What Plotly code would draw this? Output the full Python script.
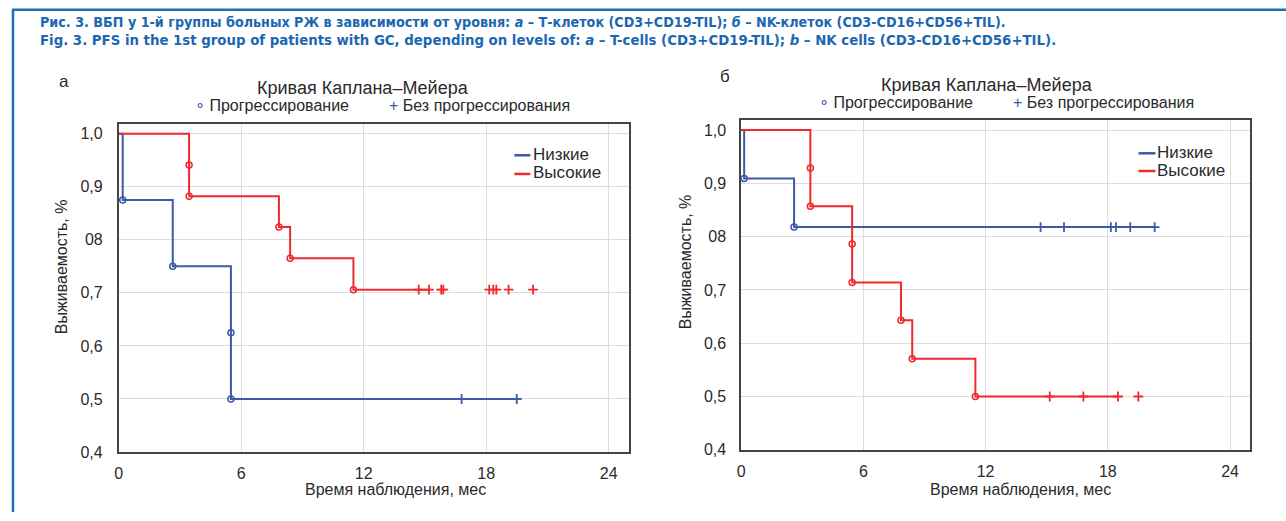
import plotly.graph_objects as go

# ---------------- data ----------------
# Panel a: T-cells
a_low_event_t = [0.2, 2.65, 5.5, 5.5]
a_low_event_s = [0.875, 0.75, 0.625, 0.5]
a_low_cens_t = [16.8, 19.5]
a_low_line_end = 19.5

a_high_event_t = [3.45, 3.45, 7.85, 8.4, 11.5]
a_high_event_s = [0.941, 0.882, 0.824, 0.765, 0.706]
a_high_cens_t = [14.7, 15.2, 15.8, 15.9, 18.15, 18.35, 18.5, 19.1, 20.3]
a_high_line_end = 15.2

# Panel б: NK cells
b_low_event_t = [0.15, 2.6]
b_low_event_s = [0.909, 0.818]
b_low_cens_t = [14.7, 15.85, 18.15, 18.4, 19.1, 20.3]
b_low_line_end = 20.3

b_high_event_t = [3.4, 3.4, 5.45, 5.45, 7.85, 8.4, 11.5]
b_high_event_s = [0.929, 0.857, 0.786, 0.714, 0.643, 0.571, 0.5]
b_high_cens_t = [15.15, 16.8, 18.5, 19.5]
b_high_line_end = 18.5

x_tick_vals = [0, 6, 12, 18, 24]
x_tick_text = ["0", "6", "12", "18", "24"]
y_tick_vals = [0.4, 0.5, 0.6, 0.7, 0.8, 0.9, 1.0]
y_tick_text = ["0,4", "0,5", "0,6", "0,7", "08", "0,9", "1,0"]

group_names = ["Низкие", "Высокие"]

# ---------------- styles ----------------
BLUE = "#3c5aa8"
RED = "#ee2a2e"
TXT = "#2a2a2a"
FRAME = "#1f6db6"
FONT = "Liberation Sans, Arial, sans-serif"
W, H = 1286, 521


def px_x(p):
    return p / W


def px_y(p):
    return (H - p) / H


fig = go.Figure()


def add_curve(ev_t, ev_s, cens_t, line_end, color, name, xa, ya):
    xs = [0.0]
    ys = [1.0]
    for t, s in zip(ev_t, ev_s):
        xs.append(t)
        ys.append(s)
    last = ev_s[-1]
    xs.append(line_end)
    ys.append(last)
    fig.add_trace(go.Scatter(
        x=xs, y=ys, mode="lines", line=dict(color=color, width=2, shape="hv"),
        name=name, xaxis=xa, yaxis=ya, showlegend=False, hoverinfo="skip"))
    fig.add_trace(go.Scatter(
        x=ev_t, y=ev_s, mode="markers",
        marker=dict(symbol="circle-open", size=6, color=color, line=dict(width=1.5, color=color)),
        xaxis=xa, yaxis=ya, showlegend=False, hoverinfo="skip"))
    fig.add_trace(go.Scatter(
        x=cens_t, y=[last] * len(cens_t), mode="markers",
        marker=dict(symbol="cross-thin", size=7, color=color, line=dict(width=1.8, color=color)),
        xaxis=xa, yaxis=ya, showlegend=False, hoverinfo="skip"))


add_curve(a_low_event_t, a_low_event_s, a_low_cens_t, a_low_line_end, BLUE, group_names[0], "x", "y")
add_curve(a_high_event_t, a_high_event_s, a_high_cens_t, a_high_line_end, RED, group_names[1], "x", "y")
add_curve(b_low_event_t, b_low_event_s, b_low_cens_t, b_low_line_end, BLUE, group_names[0], "x2", "y2")
add_curve(b_high_event_t, b_high_event_s, b_high_cens_t, b_high_line_end, RED, group_names[1], "x2", "y2")

axis_common = dict(
    showline=True, mirror=True, linecolor="#444", linewidth=1.5,
    showgrid=True, gridcolor="#dcdcdc", gridwidth=1,
    zeroline=False, ticks="", tickfont=dict(family=FONT, size=16, color=TXT),
)

fig.update_layout(
    width=W, height=H,
    margin=dict(l=0, r=0, t=0, b=0),
    paper_bgcolor="white", plot_bgcolor="white",
    font=dict(family=FONT, size=16, color=TXT),
    showlegend=False,
    xaxis=dict(domain=[px_x(115), px_x(627)], range=[0, 25], anchor="y",
               tickvals=x_tick_vals, ticktext=x_tick_text, ticklabelstandoff=6, **axis_common),
    yaxis=dict(domain=[px_y(460), px_y(126)], range=[0.4, 1.0185], anchor="x",
               tickvals=y_tick_vals, ticktext=y_tick_text, ticklabelstandoff=11, **axis_common),
    xaxis2=dict(domain=[px_x(739.4), px_x(1250.3)], range=[0, 25], anchor="y2",
                tickvals=x_tick_vals, ticktext=x_tick_text, ticklabelstandoff=6, **axis_common),
    yaxis2=dict(domain=[px_y(457.7), px_y(121.7)], range=[0.4, 1.0196], anchor="x2",
                tickvals=y_tick_vals, ticktext=y_tick_text, ticklabelstandoff=10, **axis_common),
)

# frame around the figure (left and top edges visible)
fig.add_shape(type="line", xref="paper", yref="paper", x0=px_x(9), x1=px_x(9), y0=0, y1=px_y(10),
              line=dict(color=FRAME, width=2.5))
fig.add_shape(type="line", xref="paper", yref="paper", x0=px_x(8), x1=1, y0=px_y(10), y1=px_y(10),
              line=dict(color=FRAME, width=2.5))

TITLE_FAMILY = "DejaVu Sans Condensed, Liberation Sans Narrow, Arial Narrow, sans-serif"
fig.add_annotation(xref="paper", yref="paper", x=px_x(34), y=px_y(22), xanchor="left", yanchor="middle",
                   showarrow=False, font=dict(family=TITLE_FAMILY, size=14.2, color="#1b67b2"),
                   text="<b>Рис. 3. ВБП у 1-й группы больных РЖ в зависимости от уровня: <i>а</i> – Т-клеток (CD3+CD19-TIL); <i>б</i> – NK-клеток (CD3-CD16+CD56+TIL).</b>")
fig.add_annotation(xref="paper", yref="paper", x=px_x(34), y=px_y(40), xanchor="left", yanchor="middle",
                   showarrow=False, font=dict(family=TITLE_FAMILY, size=14.8, color="#1b67b2"),
                   text="<b>Fig. 3. PFS in the 1st group of patients with GC, depending on levels of: <i>a</i> – T-cells (CD3+CD19-TIL); <i>b</i> – NK cells (CD3-CD16+CD56+TIL).</b>")

panels = [
    dict(letter="а", lx=60, ly=83, tx=360, ty=90, sx=380, sy=107, xt=393, xty=498, yx=57, yy=271,
         lg_x0=512, lg_x1=528, lg_tx=530, lg_y=[158, 177]),
    dict(letter="б", lx=723, ly=78, tx=986, ty=86, sx=1006, sy=104, xt=1020, xty=498, yx=684, yy=266,
         lg_x0=1138, lg_x1=1155, lg_tx=1156, lg_y=[156, 174]),
]
colors = [BLUE, RED]
for p in panels:
    fig.add_annotation(xref="paper", yref="paper", x=px_x(p["lx"]), y=px_y(p["ly"]),
                       xanchor="center", yanchor="middle", showarrow=False,
                       font=dict(family=FONT, size=17, color=TXT), text=p["letter"])
    fig.add_annotation(xref="paper", yref="paper", x=px_x(p["tx"]), y=px_y(p["ty"]),
                       xanchor="center", yanchor="middle", showarrow=False,
                       font=dict(family=FONT, size=18, color=TXT), text="Кривая Каплана–Мейера")
    fig.add_annotation(xref="paper", yref="paper", x=px_x(p["sx"]), y=px_y(p["sy"]),
                       xanchor="center", yanchor="middle", showarrow=False,
                       font=dict(family=FONT, size=16, color=TXT),
                       text=f"<span style='color:{BLUE}'>∘</span> Прогрессирование"
                            f"         <span style='color:{BLUE}'>+</span> Без прогрессирования")
    fig.add_annotation(xref="paper", yref="paper", x=px_x(p["xt"]), y=px_y(p["xty"]),
                       xanchor="center", yanchor="middle", showarrow=False,
                       font=dict(family=FONT, size=16, color=TXT), text="Время наблюдения, мес")
    fig.add_annotation(xref="paper", yref="paper", x=px_x(p["yx"]), y=px_y(p["yy"]),
                       xanchor="center", yanchor="middle", showarrow=False, textangle=-90,
                       font=dict(family=FONT, size=16, color=TXT), text="Выживаемость, %")
    # legend (short coloured line + label)
    for name, col, ly in zip(group_names, colors, p["lg_y"]):
        fig.add_shape(type="line", xref="paper", yref="paper",
                      x0=px_x(p["lg_x0"]), x1=px_x(p["lg_x1"]), y0=px_y(ly), y1=px_y(ly),
                      line=dict(color=col, width=2.5))
        fig.add_annotation(xref="paper", yref="paper", x=px_x(p["lg_tx"]), y=px_y(ly - 1),
                           xanchor="left", yanchor="middle", showarrow=False, borderpad=0,
                           font=dict(family=FONT, size=17, color=TXT), text=name)

fig.write_html("out.html", config={"displayModeBar": False},
               post_script="document.body.style.margin='0';")
